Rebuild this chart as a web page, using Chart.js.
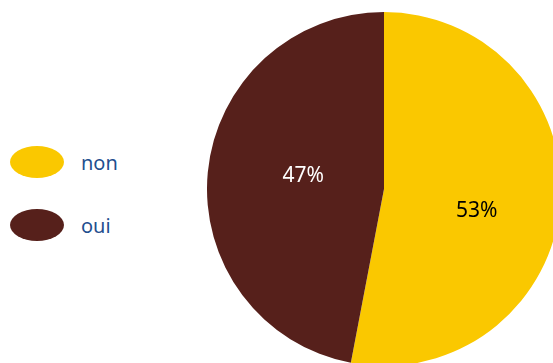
<!DOCTYPE html>
<html>
<head>
<meta charset="utf-8">
<script src="https://cdn.jsdelivr.net/npm/chart.js@4/dist/chart.umd.min.js"></script>
<style>
  html, body { margin: 0; padding: 0; }
  body { width: 553px; height: 363px; overflow: hidden; position: relative; background: #fff; font-family: "Noto Sans", sans-serif; }
  #title { position: absolute; left: 12px; top: -18px; font-size: 18px; line-height: 20px; color: #f7c700; white-space: nowrap; }
  #pie { position: absolute; left: 207px; top: 12px; }
  #legend { position: absolute; left: 10px; top: 146px; }
  .item { display: flex; align-items: center; height: 32px; margin-bottom: 31px; }
  .swatch { width: 54px; height: 32px; border-radius: 50%; margin-right: 17px; }
  .item span { font-size: 20px; color: #1f4f8f; }
</style>
</head>
<body>
<div id="title">Connaissez-vous</div>
<div id="legend"></div>
<canvas id="pie" width="354" height="354"></canvas>
<script>
var answers = ['non', 'oui'];
var shares = [53, 47];
var colors = ['#fac800', '#56201b'];
var labelColors = ['#000000', '#ffffff'];

// legend with oval swatches
var legend = document.getElementById('legend');
answers.forEach(function (a, i) {
    var item = document.createElement('div');
    item.className = 'item';
    var sw = document.createElement('div');
    sw.className = 'swatch';
    sw.style.background = colors[i];
    var txt = document.createElement('span');
    txt.textContent = a;
    item.appendChild(sw);
    item.appendChild(txt);
    legend.appendChild(item);
});

// percentage text inside each slice
var sliceLabels = {
    id: 'sliceLabels',
    afterDatasetsDraw: function (chart) {
        var ctx = chart.ctx;
        var meta = chart.getDatasetMeta(0);
        ctx.save();
        ctx.font = '21px "Noto Sans"';
        ctx.textAlign = 'center';
        ctx.textBaseline = 'middle';
        meta.data.forEach(function (arc, i) {
            // a little past the middle of the slice, nudged down-right
            var mid = (arc.startAngle + arc.endAngle) / 2 + 6 * Math.PI / 180;
            var r = arc.outerRadius * 0.5;
            ctx.fillStyle = labelColors[i];
            ctx.fillText(shares[i] + '%', arc.x + Math.cos(mid) * r + 6, arc.y + Math.sin(mid) * r + 5);
        });
        ctx.restore();
    }
};

new Chart(document.getElementById('pie'), {
    type: 'pie',
    data: {
        labels: answers,
        datasets: [{
            data: shares,
            backgroundColor: colors,
            borderWidth: 0
        }]
    },
    options: {
        responsive: false,
        animation: false,
        devicePixelRatio: 1,
        layout: { padding: 0 },
        plugins: {
            legend: { display: false },
            tooltip: { enabled: false }
        }
    },
    plugins: [sliceLabels]
});
</script>
</body>
</html>
